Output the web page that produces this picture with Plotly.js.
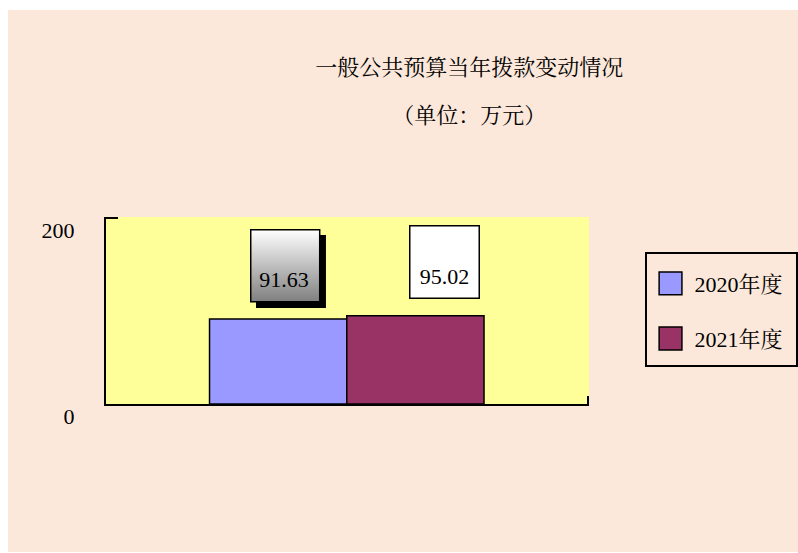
<!DOCTYPE html>
<html>
<head>
<meta charset="utf-8">
<script src="https://cdn.plot.ly/plotly-3.0.1.min.js"></script>
<style>
html,body{margin:0;padding:0;background:#ffffff;}
#chart{position:absolute;left:8px;top:10px;width:790px;height:542px;}
</style>
</head>
<body>
<div id="chart"></div>
<script>
// ---- data ----
var categories = ["当年拨款"];
var seriesNames = ["2020年度", "2021年度"];
var values2020 = [91.63];
var values2021 = [95.02];
var yTickVals = [0, 200];
var yTickText = ["0", "200"];
var titleText = "一般公共预算当年拨款变动情况";
var subtitleText = "（单位：万元）";

var FONT = "Liberation Serif, 'Noto Serif CJK SC', 'Noto Sans CJK SC', serif";

var data = [
  {type: "bar", name: seriesNames[0], x: categories, y: values2020, legendgroup: "a",
   marker: {color: "#9999FF", line: {color: "#000000", width: 1.5}}, hoverinfo: "skip"},
  {type: "bar", name: seriesNames[1], x: categories, y: values2021, legendgroup: "b",
   marker: {color: "#993366", line: {color: "#000000", width: 1.5}}, hoverinfo: "skip"}
];

var gradSvg = '<svg xmlns="http://www.w3.org/2000/svg" width="76" height="79" viewBox="0 0 76 79">' +
  '<defs><linearGradient id="g" x1="0" y1="0" x2="0" y2="1">' +
  '<stop offset="0" stop-color="#ffffff"/><stop offset="1" stop-color="#7f7f7f"/></linearGradient></defs>' +
  '<rect x="6" y="6" width="70" height="73" fill="#000000"/>' +
  '<rect x="0.75" y="0.75" width="69" height="72" fill="url(#g)" stroke="#000000" stroke-width="1.5"/>' +
  '</svg>';
var gradUri = "data:image/svg+xml;base64," + btoa(gradSvg);

var layout = {
  width: 790, height: 542,
  margin: {l: 98, r: 209, t: 207, b: 148, pad: 0, autoexpand: false},
  paper_bgcolor: "#FCE8DA",
  plot_bgcolor: "#FFFF99",
  font: {family: FONT, size: 22, color: "#000000"},
  title: {text: titleText, font: {family: FONT, size: 22, color: "#000000"},
          subtitle: {text: subtitleText, font: {family: FONT, size: 22, color: "#000000"}},
          xref: "container", x: 0.584, xanchor: "center",
          yref: "container", y: 0.8948, yanchor: "middle"},
  barmode: "group",
  bargap: 0.43,
  bargroupgap: 0,
  showlegend: true,
  legend: {x: 1.116, xanchor: "left", y: 0.8128, yanchor: "top",
           bgcolor: "rgba(0,0,0,0)", bordercolor: "#000000", borderwidth: 1.5,
           font: {family: FONT, size: 22, color: "#000000"},
           title: {text: "&nbsp;", font: {size: 7}},
           traceorder: "grouped", tracegroupgap: 23.5, itemwidth: 38},
  xaxis: {type: "category", range: [-0.5, 0.503], showticklabels: false,
          showline: true, linecolor: "#000000", linewidth: 2,
          ticks: "inside", tickson: "boundaries", ticklen: 8, tickwidth: 2, tickcolor: "#000000",
          showgrid: false, zeroline: false, fixedrange: true},
  yaxis: {range: [0, 201.4], tickvals: yTickVals, ticktext: yTickText,
          showline: true, linecolor: "#000000", linewidth: 2,
          ticks: "inside", ticklen: 12, tickwidth: 2, tickcolor: "#000000",
          ticklabelstandoff: 25, ticklabelshift: 12,
          tickfont: {family: FONT, size: 22, color: "#000000"},
          showgrid: false, zeroline: false, fixedrange: true},
  images: [{source: gradUri, xref: "paper", yref: "paper",
            x: 0.2981, y: 0.9358, sizex: 0.1573, sizey: 0.4225,
            xanchor: "left", yanchor: "top", sizing: "stretch", layer: "above"}],
  annotations: [
    {xref: "x", yref: "y", x: categories[0], y: values2020[0], text: "&nbsp;<br>" + values2020[0].toFixed(2),
     showarrow: false, xshift: -62.5, yshift: 53, width: 66, height: 69,
     align: "center", valign: "middle", borderpad: 1, borderwidth: 0,
     font: {family: FONT, size: 22, color: "#000000"}},
    {xref: "x", yref: "y", x: categories[0], y: values2021[0], text: "&nbsp;<br>" + values2021[0].toFixed(2),
     showarrow: false, xshift: 97.5, yshift: 53.4, width: 66, height: 69,
     align: "center", valign: "middle", borderpad: 1, borderwidth: 1.5,
     bordercolor: "#000000", bgcolor: "#ffffff",
     font: {family: FONT, size: 22, color: "#000000"}}
  ]
};

var gd = document.getElementById("chart");
Plotly.newPlot(gd, data, layout, {staticPlot: true, displayModeBar: false}).then(function () {
  gd.querySelectorAll(".legendpoints path").forEach(function (p) {
    var t = p.getAttribute("transform") || "";
    p.setAttribute("transform", t + " scale(1.9)");
    p.style.vectorEffect = "non-scaling-stroke";
  });
  var bg = gd.querySelector(".legend rect.bg");
  if (bg) {
    var w = parseFloat(bg.getAttribute("width")) || 0;
    var h = parseFloat(bg.getAttribute("height")) || 0;
    bg.setAttribute("width", Math.max(w, 151));
    bg.setAttribute("height", Math.max(h, 113));
  }
});
</script>
</body>
</html>
